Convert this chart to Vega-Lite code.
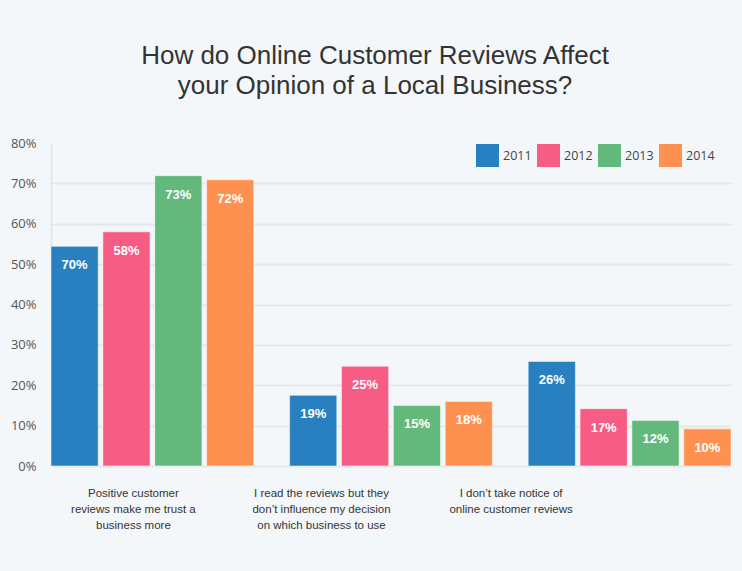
{
  "$schema": "https://vega.github.io/schema/vega-lite/v6.json",
  "autosize": "none",
  "width": 680,
  "height": 323,
  "padding": {"left": 51, "top": 143, "right": 11, "bottom": 105},
  "background": "#f4f7fa",
  "title": {
    "text": ["How do Online Customer Reviews Affect", "your Opinion of a Local Business?"],
    "font": "Liberation Sans",
    "fontSize": 26,
    "fontWeight": "normal",
    "color": "#333333",
    "anchor": "middle",
    "dx": -16,
    "offset": 38,
    "lineHeight": 30
  },
  "data": {
    "values": [
      {"group": "Positive customer|reviews make me trust a|business more", "year": "2011", "value": 54.4, "label": "70%"},
      {"group": "Positive customer|reviews make me trust a|business more", "year": "2012", "value": 58.0, "label": "58%"},
      {"group": "Positive customer|reviews make me trust a|business more", "year": "2013", "value": 71.9, "label": "73%"},
      {"group": "Positive customer|reviews make me trust a|business more", "year": "2014", "value": 70.9, "label": "72%"},
      {"group": "I read the reviews but they|don’t influence my decision|on which business to use", "year": "2011", "value": 17.5, "label": "19%"},
      {"group": "I read the reviews but they|don’t influence my decision|on which business to use", "year": "2012", "value": 24.7, "label": "25%"},
      {"group": "I read the reviews but they|don’t influence my decision|on which business to use", "year": "2013", "value": 15.0, "label": "15%"},
      {"group": "I read the reviews but they|don’t influence my decision|on which business to use", "year": "2014", "value": 16.0, "label": "18%"},
      {"group": "I don’t take notice of|online customer reviews", "year": "2011", "value": 25.9, "label": "26%"},
      {"group": "I don’t take notice of|online customer reviews", "year": "2012", "value": 14.2, "label": "17%"},
      {"group": "I don’t take notice of|online customer reviews", "year": "2013", "value": 11.3, "label": "12%"},
      {"group": "I don’t take notice of|online customer reviews", "year": "2014", "value": 9.2, "label": "10%"}
    ]
  },
  "encoding": {
    "x": {
      "field": "group",
      "type": "nominal",
      "sort": [
        "Positive customer|reviews make me trust a|business more",
        "I read the reviews but they|don’t influence my decision|on which business to use",
        "I don’t take notice of|online customer reviews"
      ],
      "scale": {"paddingInner": 0.15, "paddingOuter": 0},
      "axis": {
        "title": null,
        "ticks": false,
        "domain": false,
        "labelAngle": 0,
        "labelExpr": "split(datum.label, '|')",
        "labelFont": "Liberation Sans",
        "labelFontSize": 11.5,
        "labelColor": "#333333",
        "labelLineHeight": 16,
        "labelBaseline": "top",
        "labelPadding": 21,
        "labelOffset": {
          "condition": [
            {"test": "indexof(datum.value, 'Positive') === 0", "value": -19},
            {"test": "indexof(datum.value, 'I read') === 0", "value": -69.5}
          ],
          "value": -118.5
        }
      }
    },
    "xOffset": {
      "field": "year",
      "type": "nominal",
      "scale": {"paddingInner": 0.09, "paddingOuter": 0}
    },
    "y": {
      "field": "value",
      "type": "quantitative",
      "scale": {"domain": [0, 80], "nice": false},
      "axis": {
        "title": null,
        "values": [0, 10, 20, 30, 40, 50, 60, 70, 80],
        "labelExpr": "datum.value + '%'",
        "ticks": false,
        "domain": true,
        "domainColor": "#e3e6ea",
        "domainWidth": 2,
        "labelFont": "Open Sans",
        "labelFontSize": 13,
        "labelColor": "#555555",
        "labelPadding": 15,
        "gridColor": "#e3e6ea",
        "gridWidth": 2,
        "gridOpacity": {"condition": {"test": "datum.value === 80", "value": 0}, "value": 1}
      }
    }
  },
  "layer": [
    {
      "mark": {"type": "bar", "stroke": "#ffffff", "strokeOpacity": 0.5, "strokeWidth": 1},
      "encoding": {
        "color": {
          "field": "year",
          "type": "nominal",
          "scale": {"domain": ["2011", "2012", "2013", "2014"], "range": ["#2880c0", "#f75c85", "#63b97b", "#fe914f"]},
          "legend": {
            "title": null,
            "orient": "none",
            "legendX": 425,
            "legendY": 1,
            "direction": "horizontal",
            "padding": 0,
            "symbolType": "square",
            "symbolSize": 529,
            "symbolStrokeWidth": 0,
            "symbolOpacity": 1,
            "labelFont": "Open Sans",
            "labelFontSize": 12.5,
            "labelColor": "#444444",
            "labelOffset": 4,
            "columnPadding": 5
          }
        }
      }
    },
    {
      "mark": {"type": "text", "color": "#ffffff", "font": "Liberation Sans", "fontWeight": "bold", "fontSize": 13, "baseline": "middle", "dy": 19},
      "encoding": {
        "text": {"field": "label"}
      }
    }
  ],
  "config": {
    "view": {"stroke": null}
  }
}
